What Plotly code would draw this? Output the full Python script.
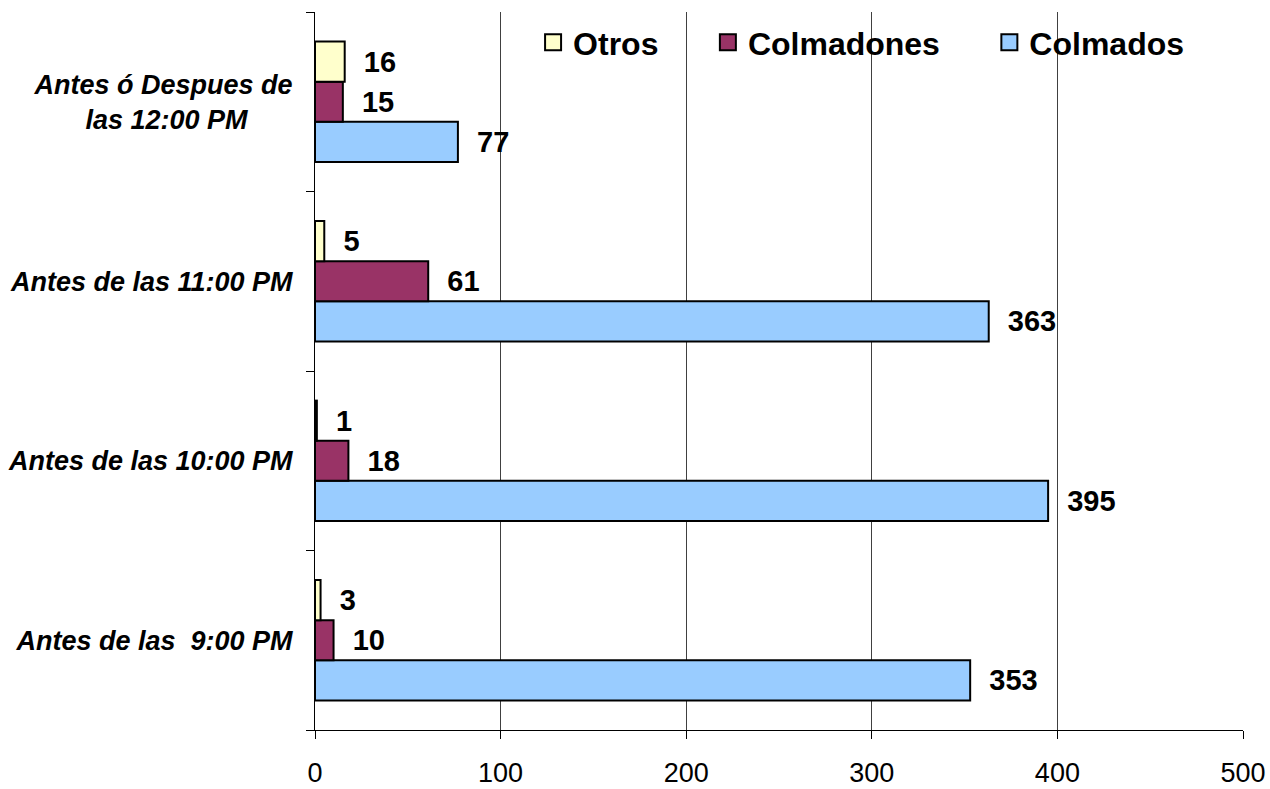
import plotly.graph_objects as go

categories = ["Antes de las  9:00 PM", "Antes de las 10:00 PM", "Antes de las 11:00 PM", "Antes ó Despues de las 12:00 PM"]
tick_labels = ["Antes de las  9:00 PM", "Antes de las 10:00 PM", "Antes de las 11:00 PM",
               "Antes ó Despues de<br>las 12:00 PM" + "\u00a0" * 6]
colmados = [353, 395, 363, 77]
colmadones = [10, 18, 61, 15]
otros = [3, 1, 5, 16]

series = [
    ("Colmados", colmados, "#99CCFF"),
    ("Colmadones", colmadones, "#993366"),
    ("Otros", otros, "#FFFFCC"),
]
legend_pad = {"Colmados": 0, "Colmadones": 5, "Otros": 5}

FONT = "Liberation Sans, Arial, sans-serif"

fig = go.Figure()
for name, vals, color in series:
    fig.add_trace(go.Bar(
        name=name, y=categories, x=vals, orientation="h",
        marker=dict(color=color, line=dict(color="black", width=2)),
        text=vals, texttemplate="\u00a0\u00a0%{x}", textposition="outside",
        cliponaxis=False, constraintext="none",
        textfont=dict(family=FONT, size=29, color="black", weight="bold"),
        showlegend=False,
    ))
# legend entries with larger square swatches
for name, vals, color in series:
    fig.add_trace(go.Scatter(
        name=name + "\u00a0" * legend_pad[name], x=[None], y=[None], mode="markers",
        marker=dict(symbol="square", size=16, color=color, line=dict(color="black", width=2)),
        showlegend=True, hoverinfo="skip",
    ))

# white box behind legend (above gridlines, below bars), as in the original
fig.add_shape(type="rect", xref="paper", yref="paper", x0=0.17, x1=0.955, y0=0.894, y1=1.0,
              fillcolor="white", line=dict(width=0), layer="between")

fig.update_layout(
    template="none",
    width=1270, height=789,
    margin=dict(l=315, r=27, t=12, b=59),
    paper_bgcolor="white", plot_bgcolor="white",
    barmode="group", bargap=0.33, bargroupgap=0,
    font=dict(family=FONT, color="black"),
    showlegend=True,
    legend=dict(
        orientation="h", traceorder="reversed",
        x=0.235, xanchor="left", y=0.996, yanchor="top",
        bgcolor="rgba(255,255,255,0)", borderwidth=0,
        font=dict(family=FONT, size=32, color="black", weight="bold"),
        itemclick=False, itemdoubleclick=False,
    ),
    xaxis=dict(
        range=[0, 500], dtick=100, tick0=0, automargin=False,
        showgrid=True, gridcolor="#404040", gridwidth=1,
        showline=True, linecolor="black", linewidth=1,
        ticks="outside", ticklen=8, tickcolor="black",
        tickfont=dict(family=FONT, size=27, color="black"),
        ticklabelstandoff=11,
        zeroline=False,
    ),
    yaxis=dict(
        type="category", categoryorder="array", categoryarray=categories, automargin=False,
        tickmode="array", tickvals=categories, ticktext=tick_labels,
        showline=True, linecolor="black", linewidth=1,
        ticks="outside", ticklen=8, tickcolor="black", tickson="boundaries",
        tickfont=dict(family=FONT, size=27, color="black", weight="bold", style="italic"),
        ticklabelstandoff=16,
        showgrid=False, zeroline=False,
    ),
)

fig.write_html("out.html", config={"displayModeBar": False},
               post_script="document.body.style.margin='0';document.body.style.overflow='hidden';")
